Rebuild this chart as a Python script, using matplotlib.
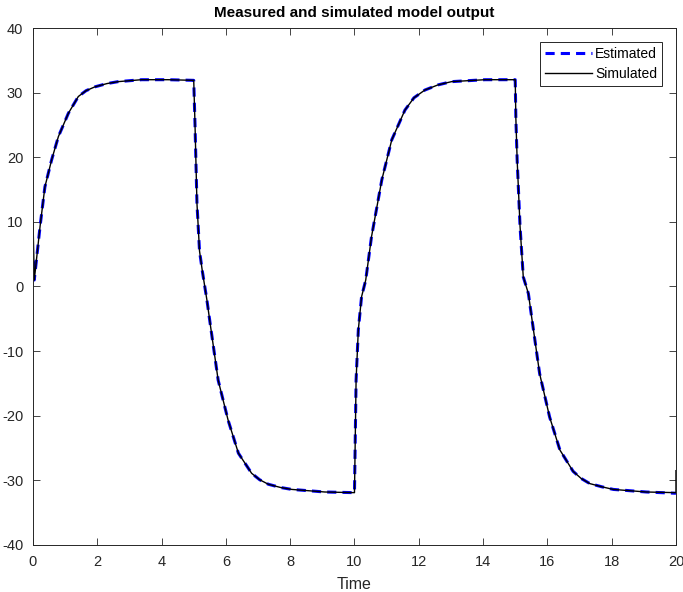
import matplotlib.pyplot as plt

# Values
t = [0.0, 0.04, 0.22, 0.37, 0.58, 0.79, 1.10, 1.41, 1.65, 1.93, 2.3, 2.65, 3.38, 4.2, 5.0,
     5.04, 5.10, 5.18, 5.27, 5.41, 5.51, 5.76, 6.07, 6.39, 6.80, 7.05, 7.32, 7.7, 8.05, 9.08, 10.0,
     10.02, 10.05, 10.12, 10.22, 10.35, 10.53, 10.85, 11.16, 11.57, 11.85, 12.19, 12.6, 13.02, 14.06, 15.0,
     15.02, 15.06, 15.15, 15.25, 15.41, 15.51, 15.76, 16.07, 16.39, 16.80, 17.05, 17.32, 17.7, 18.05,
     19.08, 20.0, 20.0]

simulated = [10.3, 1.0, 9.3, 15.4, 19.6, 23.2, 26.8, 29.4, 30.3, 30.9, 31.4, 31.7, 32.0, 32.0, 31.9,
             25.0, 12.9, 5.5, 2.3, -2.1, -5.7, -14.5, -20.7, -25.8, -28.9, -29.9, -30.6, -31.1, -31.4, -31.8, -31.9,
             -25.0, -14.5, -6.7, -1.6, 1.0, 7.7, 16.5, 22.7, 27.3, 29.2, 30.4, 31.2, 31.7, 32.0, 32.0,
             26.0, 19.6, 9.3, 1.5, -1.1, -4.7, -13.5, -20.2, -25.3, -28.6, -29.7, -30.5, -31.0, -31.4,
             -31.8, -31.9, -28.5]

estimated = [4.0, 1.0, 9.3, 15.4, 19.6, 23.2, 26.8, 29.4, 30.3, 30.9, 31.4, 31.7, 32.0, 32.0, 31.9,
             25.0, 12.9, 5.5, 2.3, -2.1, -5.7, -14.5, -20.7, -25.8, -28.9, -29.9, -30.6, -31.1, -31.4, -31.8, -31.9,
             -25.0, -14.5, -6.7, -1.6, 1.0, 7.7, 16.5, 22.7, 27.3, 29.2, 30.4, 31.2, 31.7, 32.0, 32.0,
             26.0, 19.6, 9.3, 1.5, -1.1, -4.7, -13.5, -20.2, -25.3, -28.6, -29.7, -30.5, -31.0, -31.4,
             -31.8, -32.0, -32.0]

x_ticks = list(range(0, 21, 2))
y_ticks = list(range(-40, 41, 10))

plt.rcParams['font.family'] = ['Liberation Sans', 'DejaVu Sans']
plt.rcParams['axes.unicode_minus'] = False
ink = '#262626'

fig = plt.figure(figsize=(6.83, 5.92), dpi=100)
ax = fig.add_axes([0.0483, 0.0794, 0.9414, 0.8733])

ax.plot(t, estimated, color='blue', linestyle=(0, (3, 2)), linewidth=2.2, label='Estimated')
ax.plot(t, simulated, color='black', linewidth=1.0, label='Simulated')

ax.set_xlim(0, 20)
ax.set_ylim(-40, 40)
ax.set_xticks(x_ticks)
ax.set_yticks(y_ticks)
ax.tick_params(direction='in', length=5, width=0.6, colors=ink, labelsize=10.5,
               top=True, right=True, pad=7)
for s in ax.spines.values():
    s.set_color(ink)
    s.set_linewidth(0.7)

ax.set_title('Measured and simulated model output', fontsize=11, fontweight='bold', pad=8)
ax.set_xlabel('Time', fontsize=11.5, color=ink, labelpad=6)

leg = ax.legend(loc='upper right', fontsize=10, fancybox=False, framealpha=1,
                edgecolor=ink, handlelength=3.4, borderpad=0.35, labelspacing=0.45,
                handletextpad=0.2, borderaxespad=1.0)
leg.get_frame().set_linewidth(0.7)

fig.savefig('out.png', dpi=100)
